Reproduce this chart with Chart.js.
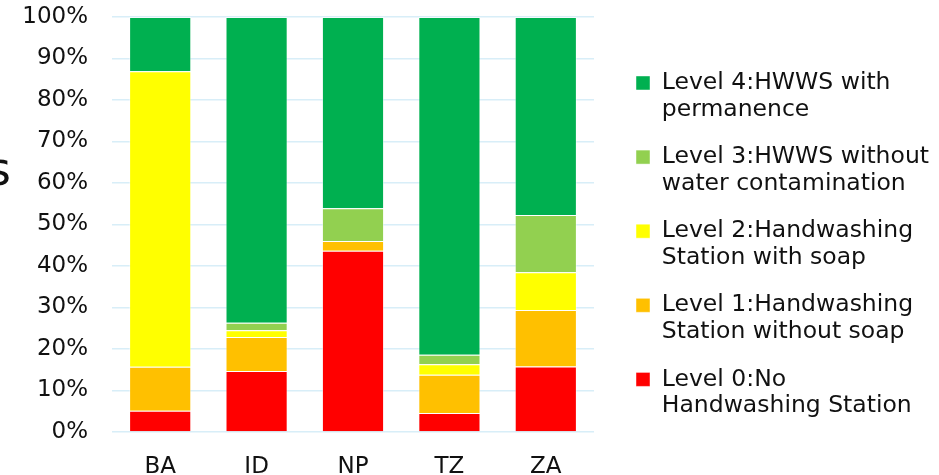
<!DOCTYPE html>
<html>
<head>
<meta charset="utf-8">
<script src="https://cdn.jsdelivr.net/npm/chart.js@4/dist/chart.umd.min.js"></script>
<style>
  body { margin: 0; background: #fff; }
  #wrap { width: 939px; height: 475px; }
</style>
</head>
<body>
<div id="wrap"><canvas id="chart" width="939" height="475"></canvas></div>
<script>
// Countries and share of households at each handwashing level (%)
const countries = ['BA', 'ID', 'NP', 'TZ', 'ZA'];
const level0 = [5.1, 14.7, 43.7, 4.6, 15.8];
const level1 = [10.6, 8.2, 2.3, 9.2, 13.6];
const level2 = [71.2, 1.6, 0, 2.5, 9.1];
const level3 = [0, 1.8, 7.9, 2.3, 13.8];
const level4 = [13.1, 73.7, 46.1, 81.4, 47.7];

const levelNames = [
    ['Level 0:No', 'Handwashing Station'],
    ['Level 1:Handwashing', 'Station without soap'],
    ['Level 2:Handwashing', 'Station with soap'],
    ['Level 3:HWWS without', 'water contamination'],
    ['Level 4:HWWS with', 'permanence']
];
const levelColors = ['#FF0000', '#FFC000', '#FFFF00', '#92D050', '#00B050'];
const yTicks = [0, 10, 20, 30, 40, 50, 60, 70, 80, 90, 100];

const seriesValues = [level0, level1, level2, level3, level4];
const datasets = seriesValues.map((values, i) => ({
    label: levelNames[i],
    data: values,
    backgroundColor: levelColors[i],
    borderColor: 'rgba(255,255,255,0.45)',
    borderWidth: 1,
    categoryPercentage: 1,
    barPercentage: 0.645
}));

const FONT = 'DejaVu Sans';

// stray letter of the cut-off axis caption on the far left
const edgeCaption = {
    id: 'edgeCaption',
    afterDraw(chart) {
        const ctx = chart.ctx;
        ctx.save();
        ctx.fillStyle = '#111';
        ctx.font = '46px "' + FONT + '"';
        ctx.textAlign = 'left';
        ctx.textBaseline = 'alphabetic';
        ctx.fillText('s', -13, 185);
        ctx.restore();
    }
};

const ctx = document.getElementById('chart').getContext('2d');
const chart = new Chart(ctx, {
    type: 'bar',
    data: {
        labels: countries,
        datasets: datasets
    },
    options: {
        responsive: false,
        animation: false,
        layout: {
            padding: { top: 17, right: 0, bottom: 0, left: 0 }
        },
        plugins: {
            tooltip: { enabled: false },
            legend: {
                position: 'right',
                reverse: true,
                maxWidth: 324,
                labels: {
                    boxWidth: 14,
                    boxHeight: 14,
                    padding: 21,
                    color: '#111',
                    font: { family: FONT, size: 23.5, lineHeight: 1.13 }
                }
            }
        },
        scales: {
            x: {
                stacked: true,
                grid: { display: false, drawTicks: false },
                border: { display: false },
                afterFit(scale) {
                    scale.height = 43;
                    scale.paddingLeft = 0;
                    scale.paddingRight = 0;
                },
                ticks: {
                    color: '#111',
                    padding: 21,
                    font: { family: FONT, size: 23 }
                }
            },
            y: {
                stacked: true,
                min: 0,
                max: 100,
                afterFit(scale) {
                    scale.width = 112;
                    scale.paddingTop = 0;
                    scale.paddingBottom = 0;
                },
                afterBuildTicks(scale) {
                    scale.ticks = yTicks.map(v => ({ value: v }));
                },
                grid: { color: '#D8EEF8', lineWidth: 1.5, drawTicks: false },
                border: { display: false },
                ticks: {
                    color: '#111',
                    padding: 24,
                    font: { family: FONT, size: 23 },
                    callback: v => v + '%'
                }
            },
            // empty spacer between the plot and the legend
            gap: {
                position: 'right',
                min: 0,
                max: 100,
                grid: { display: false, drawTicks: false },
                border: { display: false },
                ticks: { display: false },
                afterFit(scale) {
                    scale.width = 21;
                    scale.paddingTop = 0;
                    scale.paddingBottom = 0;
                }
            }
        }
    },
    plugins: [edgeCaption]
});
</script>
</body>
</html>
